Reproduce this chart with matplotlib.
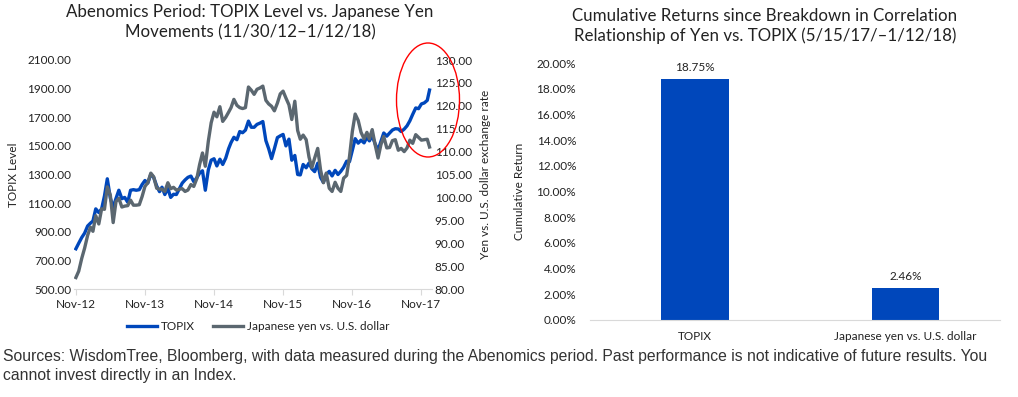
import numpy as np
import pandas as pd
import matplotlib
matplotlib.use("Agg")
import matplotlib.pyplot as plt
import matplotlib.dates as mdates
from matplotlib.patches import Ellipse

plt.rcParams['font.family'] = ['Lato', 'DejaVu Sans']

# semi-monthly readings (15th and month end), 11/30/12 - 1/12/18
dates = list(pd.date_range('2012-11-30', '2017-12-31', freq='SME')) + [pd.Timestamp('2018-01-12')]

topix = [781,
         820, 860,
         890, 940, 960, 975, 1060, 1034, 1060, 1150, 1270, 1135,
         1070, 1133, 1190, 1131, 1140, 1106, 1190, 1194, 1190, 1194,
         1230, 1258, 1240, 1302,
         1280, 1220, 1180, 1211, 1160, 1203, 1140, 1162, 1160, 1201,
         1240, 1262, 1280, 1289, 1250, 1277, 1310, 1326, 1190, 1333,
         1400, 1410, 1360, 1407,
         1370, 1415, 1480, 1523, 1560, 1543, 1600, 1592, 1610, 1673,
         1630, 1630, 1650, 1659, 1670, 1537, 1480, 1411, 1480, 1558,
         1570, 1580, 1500, 1547,
         1400, 1433, 1300, 1297, 1370, 1347, 1380, 1340, 1320, 1379,
         1280, 1245, 1300, 1322, 1290, 1329, 1300, 1322, 1350, 1393,
         1390, 1469, 1550, 1519,
         1540, 1521, 1560, 1535, 1570, 1512, 1470, 1531, 1590, 1568,
         1590, 1611, 1620, 1618, 1600, 1617, 1640, 1675, 1720, 1765,
         1760, 1793, 1800, 1818,
         1890]

yen = [82.5,
       83.9, 86.7,
       88.9, 91.7, 93.5, 92.6, 96.0, 94.2, 97.5, 97.4, 102.3, 100.5,
       94.5, 99.1, 99.8, 97.9, 98.1, 98.2, 99.4, 98.3, 98.3, 98.4,
       100.2, 102.4, 103.2, 105.3,
       104.5, 102.0, 101.8, 101.8, 101.3, 103.2, 101.9, 102.2, 101.6, 101.8,
       101.9, 101.3, 101.6, 102.8, 102.4, 104.1, 107.2, 109.7, 106.8, 112.3,
       116.3, 118.6, 117.6, 119.8,
       116.6, 117.5, 118.6, 119.6, 121.4, 120.1, 119.6, 119.4, 119.6, 124.1,
       123.4, 122.5, 123.6, 123.9, 124.3, 121.2, 120.4, 119.9, 118.9, 120.6,
       122.6, 123.2, 121.7, 120.2,
       117.0, 121.0, 114.6, 112.7, 113.6, 112.6, 108.8, 106.5, 108.6, 110.7,
       106.0, 103.2, 105.3, 102.0, 101.3, 103.3, 102.0, 101.3, 104.2, 104.8,
       108.9, 114.4, 118.2, 116.8,
       114.2, 112.8, 114.2, 112.8, 114.8, 111.4, 108.6, 111.5, 113.3, 110.8,
       110.9, 112.4, 112.6, 110.3, 110.7, 110.0, 110.8, 112.5, 111.8, 113.7,
       113.1, 112.5, 112.6, 112.7,
       111.0]

categories = ['TOPIX', 'Japanese yen vs. U.S. dollar']
returns = [18.75, 2.46]

blue = '#0047BB'
grey = '#5B6770'
txt = '#222222'

fig = plt.figure(figsize=(10.18, 3.97), dpi=100)
W, H = 1018, 397

def box(x0, y0, x1, y1):
    return [x0 / W, 1 - y1 / H, (x1 - x0) / W, (y1 - y0) / H]

# ---- left chart
ax = fig.add_axes(box(74, 60, 432, 289))
ax.plot(dates, topix, color=blue, lw=2.4, label='TOPIX')
ax.set_ylim(500, 2100)
ax.set_yticks(np.arange(500, 2101, 200))
ax.set_yticklabels([f'{v:.2f}' for v in range(500, 2101, 200)])
ax.set_xlim(pd.Timestamp('2012-11-20'), pd.Timestamp('2018-01-25'))
xt = pd.to_datetime(['2012-11-30', '2013-11-30', '2014-11-30', '2015-11-30', '2016-11-30', '2017-11-30'])
ax.set_xticks(xt)
ax.xaxis.set_major_formatter(mdates.DateFormatter('%b-%y'))
ax.set_ylabel('TOPIX Level', fontsize=8.5, color=txt, labelpad=6)

ax2 = ax.twinx()
ax2.plot(dates, yen, color=grey, lw=2.4, label='Japanese yen vs. U.S. dollar')
ax2.set_ylim(80, 130)
ax2.set_yticks(np.arange(80, 131, 5))
ax2.set_yticklabels([f'{v:.2f}' for v in range(80, 131, 5)])
ax2.set_ylabel('Yen vs. U.S. dollar exchange rate', fontsize=8.5, color=txt, labelpad=6)

for a in (ax, ax2):
    for s in a.spines.values():
        s.set_visible(False)
    a.tick_params(axis='y', length=0, labelsize=8.5, labelcolor=txt, pad=2)
ax.spines['bottom'].set_visible(True)
ax.spines['bottom'].set_color('#d9d9d9')
ax.tick_params(axis='x', length=4, color='#d9d9d9', labelsize=8.5, labelcolor=txt, pad=3)

h1, l1 = ax.get_legend_handles_labels()
h2, l2 = ax2.get_legend_handles_labels()
fig.legend(h1 + h2, l1 + l2, loc='center', bbox_to_anchor=(258 / W, 1 - 327 / H),
           ncol=2, frameon=False, fontsize=8.5, handlelength=2.6, columnspacing=1.5,
           handletextpad=0.3, labelcolor=txt)

fig.text(250 / W, 1 - 22 / H, 'Abenomics Period: TOPIX Level vs. Japanese Yen\nMovements (11/30/12\u20131/12/18)',
         ha='center', va='center', fontsize=12.2, color=txt, linespacing=1.3)

ell = Ellipse((428 / W, 1 - 100 / H), 63 / W, 114 / H, transform=fig.transFigure,
              fill=False, edgecolor='red', lw=1)
fig.add_artist(ell)

# ---- right chart
bx = fig.add_axes(box(590, 63, 1000, 320))
xpos = np.arange(len(categories))
bars = bx.bar(xpos, returns, width=0.32, color=blue)
for x, v in zip(xpos, returns):
    bx.text(x, v + 0.5, f'{v:.2f}%', ha='center', va='bottom', fontsize=8.5, color=txt)
bx.set_xlim(-0.5, 1.45)
bx.set_ylim(0, 20)
bx.set_yticks(np.arange(0, 21, 2))
bx.set_yticklabels([f'{v:.2f}%' for v in range(0, 21, 2)])
bx.set_xticks(xpos)
bx.set_xticklabels(categories)
for s in bx.spines.values():
    s.set_visible(False)
bx.spines['bottom'].set_visible(True)
bx.spines['bottom'].set_color('#d9d9d9')
bx.tick_params(axis='both', length=0, labelsize=8.5, labelcolor=txt)
bx.tick_params(axis='y', pad=10)
bx.tick_params(axis='x', pad=8)
bx.set_ylabel('Cumulative Return', fontsize=8.5, color=txt, labelpad=8)

fig.text(765 / W, 1 - 26 / H, 'Cumulative Returns since Breakdown in Correlation\nRelationship of Yen vs. TOPIX (5/15/17/\u20131/12/18)',
         ha='center', va='center', fontsize=12.2, color=txt, linespacing=1.3)

fig.text(3 / W, 1 - 366 / H,
         'Sources: WisdomTree, Bloomberg, with data measured during the Abenomics period. Past performance is not indicative of future results. You\ncannot invest directly in an Index.',
         ha='left', va='center', fontsize=11.3, color='#333333', family=['Liberation Sans', 'DejaVu Sans'],
         linespacing=1.4)

fig.savefig('out.png', dpi=100)
